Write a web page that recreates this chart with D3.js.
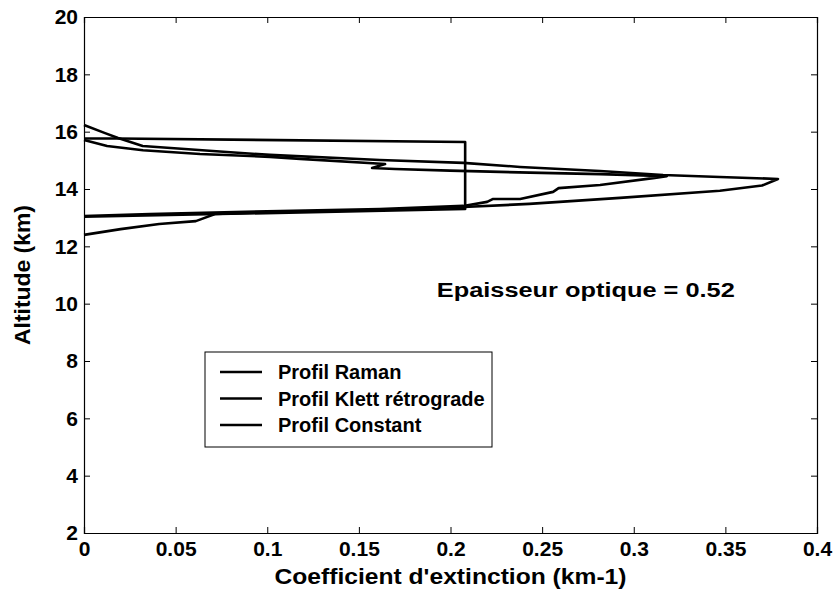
<!DOCTYPE html>
<html>
<head>
<meta charset="utf-8">
<script src="https://cdn.jsdelivr.net/npm/d3@7"></script>
<style>
  body { margin: 0; background: #fff; }
  text { font-family: "Liberation Sans", Arial, sans-serif; font-weight: bold; fill: #000; }
</style>
</head>
<body>
<div id="chart"></div>
<script>
// [extinction (km-1), altitude (km)]
var raman = [
  [0, 12.40], [0.020, 12.60], [0.041, 12.78], [0.061, 12.88], [0.064, 12.95],
  [0.0715, 13.13], [0.107, 13.20], [0.1615, 13.27], [0.207, 13.37], [0.243, 13.48],
  [0.2925, 13.69], [0.347, 13.94], [0.370, 14.12], [0.3787, 14.35],
  [0.347, 14.42], [0.316, 14.49], [0.2816, 14.63], [0.238, 14.77], [0.207, 14.91],
  [0.1615, 15.01], [0.1015, 15.19], [0.078, 15.29], [0.032, 15.50], [0.0186, 15.78],
  [0.0115, 15.95], [0, 16.23]
];
var klett = [
  [0, 13.06], [0.036, 13.13], [0.107, 13.23], [0.1615, 13.30], [0.207, 13.41],
  [0.220, 13.55], [0.223, 13.65], [0.238, 13.65], [0.256, 13.90], [0.259, 14.03],
  [0.2816, 14.14], [0.3105, 14.38], [0.318, 14.45],
  [0.2816, 14.52], [0.2434, 14.57], [0.1997, 14.64], [0.1697, 14.70], [0.1572, 14.73],
  [0.1643, 14.87], [0.1179, 15.05], [0.1015, 15.12], [0.0633, 15.22], [0.0322, 15.35],
  [0.0126, 15.50], [0, 15.71]
];
var constant = [
  [0, 13.03], [0.208, 13.30], [0.208, 15.64], [0.018, 15.76], [0, 15.76]
];

var legendNames = ["Profil Raman", "Profil Klett rétrograde", "Profil Constant"];
var xTicks = [0, 0.05, 0.1, 0.15, 0.2, 0.25, 0.3, 0.35, 0.4];
var yTicks = [2, 4, 6, 8, 10, 12, 14, 16, 18, 20];
var annotation = "Epaisseur optique = 0.52";

var margin = { top: 17, right: 20, bottom: 60, left: 84 },
  width = 733,
  height = 516;

var svg = d3.select("#chart").append("svg")
  .attr("width", 837)
  .attr("height", 593);

var g = svg.append("g")
  .attr("transform", "translate(" + margin.left + "," + margin.top + ")");

var x = d3.scaleLinear().domain([0, 0.4]).range([0, width]);
var y = d3.scaleLinear().domain([2, 20]).range([height, 0]);

// inward ticks on all four sides, like matlab
var xAxis = d3.axisBottom(x).tickValues(xTicks).tickSize(-6).tickPadding(8)
  .tickFormat(function (d) { return d3.format("")(+d.toFixed(2)); });
var yAxis = d3.axisLeft(y).tickValues(yTicks).tickSize(-6).tickPadding(6);

g.append("g")
  .attr("class", "x axis")
  .attr("transform", "translate(0," + height + ")")
  .call(xAxis);
g.append("g")
  .attr("class", "y axis")
  .call(yAxis);
g.append("g")
  .call(d3.axisTop(x).tickValues(xTicks).tickSize(-6).tickFormat(""));
g.append("g")
  .attr("transform", "translate(" + width + ",0)")
  .call(d3.axisRight(y).tickValues(yTicks).tickSize(-6).tickFormat(""));

g.selectAll(".domain").attr("stroke", "#000").attr("stroke-width", 1.2);
g.selectAll(".tick line").attr("stroke", "#000").attr("stroke-width", 1);
g.selectAll(".tick text")
  .style("font-size", "21px")
  .style("font-family", "'Liberation Sans', Arial, sans-serif")
  .style("font-weight", "bold")
  .attr("fill", "#000");
g.select(".x.axis").selectAll(".tick text").attr("dy", "0.72em");

var line = d3.line()
  .x(function (d) { return x(d[0]); })
  .y(function (d) { return y(d[1]); });

[raman, klett, constant].forEach(function (s)
{
  g.append("path")
    .datum(s)
    .attr("fill", "none")
    .attr("stroke", "#000")
    .attr("stroke-width", 2.6)
    .attr("stroke-linejoin", "round")
    .attr("d", line);
});

// annotation
g.append("text")
  .attr("x", x(0.1925))
  .attr("y", y(10.23))
  .attr("textLength", 298)
  .attr("lengthAdjust", "spacingAndGlyphs")
  .style("font-size", "20px")
  .text(annotation);

// legend
var leg = g.append("g")
  .attr("transform", "translate(" + 121 + "," + 335 + ")");
leg.append("rect")
  .attr("width", 287)
  .attr("height", 95)
  .attr("fill", "#fff")
  .attr("stroke", "#000")
  .attr("stroke-width", 1);
legendNames.forEach(function (name, i)
{
  var ly = 20 + i * 26.5;
  leg.append("line")
    .attr("x1", 15).attr("x2", 57)
    .attr("y1", ly).attr("y2", ly)
    .attr("stroke", "#000")
    .attr("stroke-width", 2.6);
  leg.append("text")
    .attr("x", 73)
    .attr("y", ly + 7)
    .style("font-size", "20px")
    .text(name);
});

// axis titles
svg.append("text")
  .attr("x", margin.left + width / 2)
  .attr("y", 584)
  .attr("text-anchor", "middle")
  .attr("textLength", 352)
  .attr("lengthAdjust", "spacingAndGlyphs")
  .style("font-size", "22px")
  .text("Coefficient d'extinction (km-1)");

svg.append("text")
  .attr("transform", "translate(30," + (margin.top + height / 2) + ") rotate(-90)")
  .attr("text-anchor", "middle")
  .attr("textLength", 140)
  .attr("lengthAdjust", "spacingAndGlyphs")
  .style("font-size", "22px")
  .text("Altitude (km)");
</script>
</body>
</html>
